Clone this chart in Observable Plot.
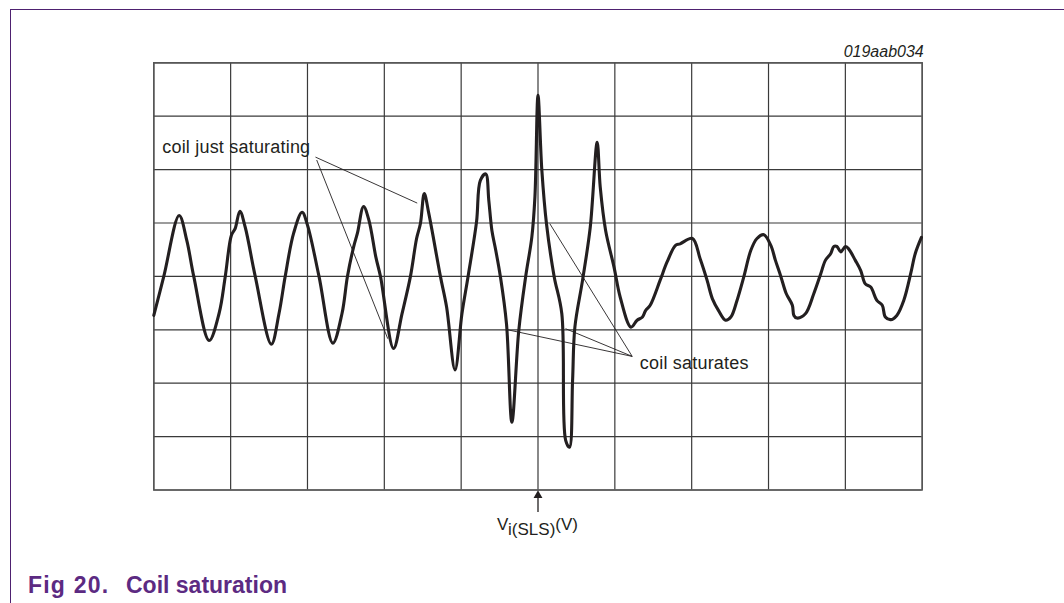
<!DOCTYPE html>
<html><head><meta charset="utf-8">
<script src="https://cdn.jsdelivr.net/npm/d3@7"></script>
<script src="https://cdn.jsdelivr.net/npm/@observablehq/plot@0.6"></script>
<style>
html,body{margin:0;padding:0;background:#fff;}
#wrap{position:relative;width:1064px;height:603px;overflow:hidden;font-family:"Liberation Sans",Arial,sans-serif;}
#wrap svg{position:absolute;left:0;top:0;}
#border{position:absolute;left:10px;top:8.5px;right:-5px;bottom:-5px;border-top:1.6px solid #4e2170;border-left:1.6px solid #4e2170;}
</style></head>
<body><div id="wrap"><div id="border"></div></div>
<script>
// Grid divisions
const xTicks = [0,1,2,3,4,5,6,7,8,9,10];
const yTicks = [-4,-3,-2,-1,0,1,2,3,4];

// Waveform (x, y in divisions)
const waveX = [0,0.13,0.33,0.43,0.52,0.72,0.85,0.93,1.01,1.06,1.12,1.19,1.32,1.53,1.63,1.71,1.82,1.93,2.00,2.15,2.33,2.45,2.52,2.60,2.65,2.73,2.80,2.89,2.95,3.12,3.23,3.34,3.42,3.47,3.52,3.58,3.73,3.81,3.92,4.01,4.09,4.20,4.25,4.32,4.36,4.40,4.45,4.51,4.59,4.66,4.75,4.84,4.92,4.96,5.00,5.05,5.11,5.21,5.31,5.36,5.41,5.45,5.48,5.58,5.68,5.77,5.81,5.88,5.99,6.07,6.21,6.29,6.36,6.40,6.46,6.59,6.68,6.79,6.85,7.01,7.11,7.20,7.27,7.35,7.44,7.51,7.59,7.68,7.77,7.85,7.94,8.03,8.09,8.16,8.23,8.31,8.33,8.37,8.48,8.59,8.68,8.74,8.81,8.85,8.89,8.94,9.00,9.04,9.13,9.20,9.26,9.33,9.41,9.48,9.52,9.59,9.67,9.76,9.85,9.91,9.99];
const waveY = [-0.73,0,1.14,0.67,0,-1.20,-0.69,0,0.77,0.90,1.22,0.92,0,-1.27,-0.69,0,0.81,1.20,0.96,0,-1.25,-0.69,0,0.55,0.81,1.31,1.05,0.36,0,-1.35,-0.70,0,0.71,0.99,1.55,1.17,0,-0.57,-1.75,-0.70,0,1.02,1.80,1.92,1.42,0.86,0.49,0,-0.89,-2.73,-1.01,0,0.74,1.49,3.39,1.99,0.99,0,-0.70,-3.07,-3.20,-1.95,-0.95,-0.07,0.92,2.51,1.67,0.86,0.17,-0.39,-0.95,-0.82,-0.76,-0.64,-0.54,-0.07,0.27,0.58,0.61,0.71,0.33,-0.07,-0.42,-0.64,-0.82,-0.76,-0.45,0,0.49,0.71,0.78,0.58,0.30,0,-0.32,-0.54,-0.73,-0.78,-0.70,-0.32,0.05,0.30,0.43,0.56,0.56,0.46,0.56,0.52,0.30,0.11,-0.14,-0.20,-0.45,-0.54,-0.76,-0.81,-0.73,-0.45,0.05,0.43,0.73];

// Annotation labels
const labelText = ["coil just saturating", "coil saturates"];
const labelX = [0.11, 6.325];
const labelY = [2.41, -1.63];

// Leader lines
const leadX1 = [2.104, 2.12, 6.226, 6.226, 6.226];
const leadY1 = [2.234, 2.18, -1.498, -1.498, -1.498];
const leadX2 = [3.428, 3.045, 4.599, 5.358, 5.154];
const leadY2 = [1.373, -1.167, -0.998, -0.979, 0.987];

const figId = "019aab034";
const figTitleNum = "Fig 20.";
const figTitleText = "Coil saturation";

const wave = waveX.map((x, i) => ({x, y: waveY[i]}));
const labels = labelText.map((t, i) => ({t, x: labelX[i], y: labelY[i]}));
const leaders = leadX1.map((x1, i) => ({x1, y1: leadY1[i], x2: leadX2[i], y2: leadY2[i]}));

const ink = "#231f20";
const gridInk = "#3a3a3a";
const font = "Liberation Sans, Arial, sans-serif";

const plot = Plot.plot({
  width: 1064, height: 603,
  marginLeft: 153.3, marginRight: 142.3, marginTop: 62.3, marginBottom: 113.5,
  x: {domain: [0, 10], axis: null},
  y: {domain: [-4, 4], axis: null},
  style: {background: "transparent", fontFamily: font},
  marks: [
    Plot.ruleX(xTicks, {stroke: gridInk, strokeWidth: 1.2}),
    Plot.ruleY(yTicks, {stroke: gridInk, strokeWidth: 1.2}),
    Plot.frame({stroke: "#555", strokeWidth: 1.4}),
    Plot.line(wave, {x: "x", y: "y", stroke: ink, strokeWidth: 3.1, curve: "catmull-rom", strokeLinejoin: "round", strokeLinecap: "round"}),
    Plot.link(leaders, {x1: "x1", y1: "y1", x2: "x2", y2: "y2", stroke: ink, strokeWidth: 0.9}),
    Plot.text(labels, {x: "x", y: "y", text: "t", textAnchor: "start", fontSize: 18, fill: ink}),
    Plot.text([figId], {x: 10.02, y: 4.2, text: d => d, textAnchor: "end", fontStyle: "italic", fontSize: 16, fill: ink}),
    Plot.ruleX([5], {y1: -4.42, y2: -4.12, stroke: ink, strokeWidth: 1.3}),
    Plot.dot([5], {x: d => d, y: -4.1, symbol: "triangle", r: 3.3, fill: ink, stroke: "none"})
  ]
});

const wrap = document.getElementById("wrap");
wrap.insertBefore(plot, wrap.firstChild);

const svg = d3.select(plot);
svg.selectAll("text").filter(function() { return this.textContent === "coil just saturating" || this.textContent === "coil saturates"; })
  .style("letter-spacing", "0.2px");
const xs = plot.scale("x");
// x-axis label with subscript
const lab = svg.append("text")
  .attr("x", xs.apply(5))
  .attr("y", 530)
  .attr("text-anchor", "middle")
  .attr("font-family", font)
  .attr("font-size", 17)
  .attr("fill", ink);
lab.append("tspan").text("V");
lab.append("tspan").attr("dy", 5).text("i(SLS)");
lab.append("tspan").attr("dy", -5).text("(V)");

// Figure title
const title = svg.append("text")
  .attr("y", 593)
  .attr("text-anchor", "start")
  .attr("font-family", font)
  .attr("font-size", 23)
  .attr("font-weight", "bold")
  .attr("fill", "#5c2a82");
title.append("tspan").attr("x", 28).attr("text-anchor", "start").style("letter-spacing", "1.2px").text(figTitleNum);
title.append("tspan").attr("x", 126).attr("text-anchor", "start").text(figTitleText);
</script>
</body></html>
